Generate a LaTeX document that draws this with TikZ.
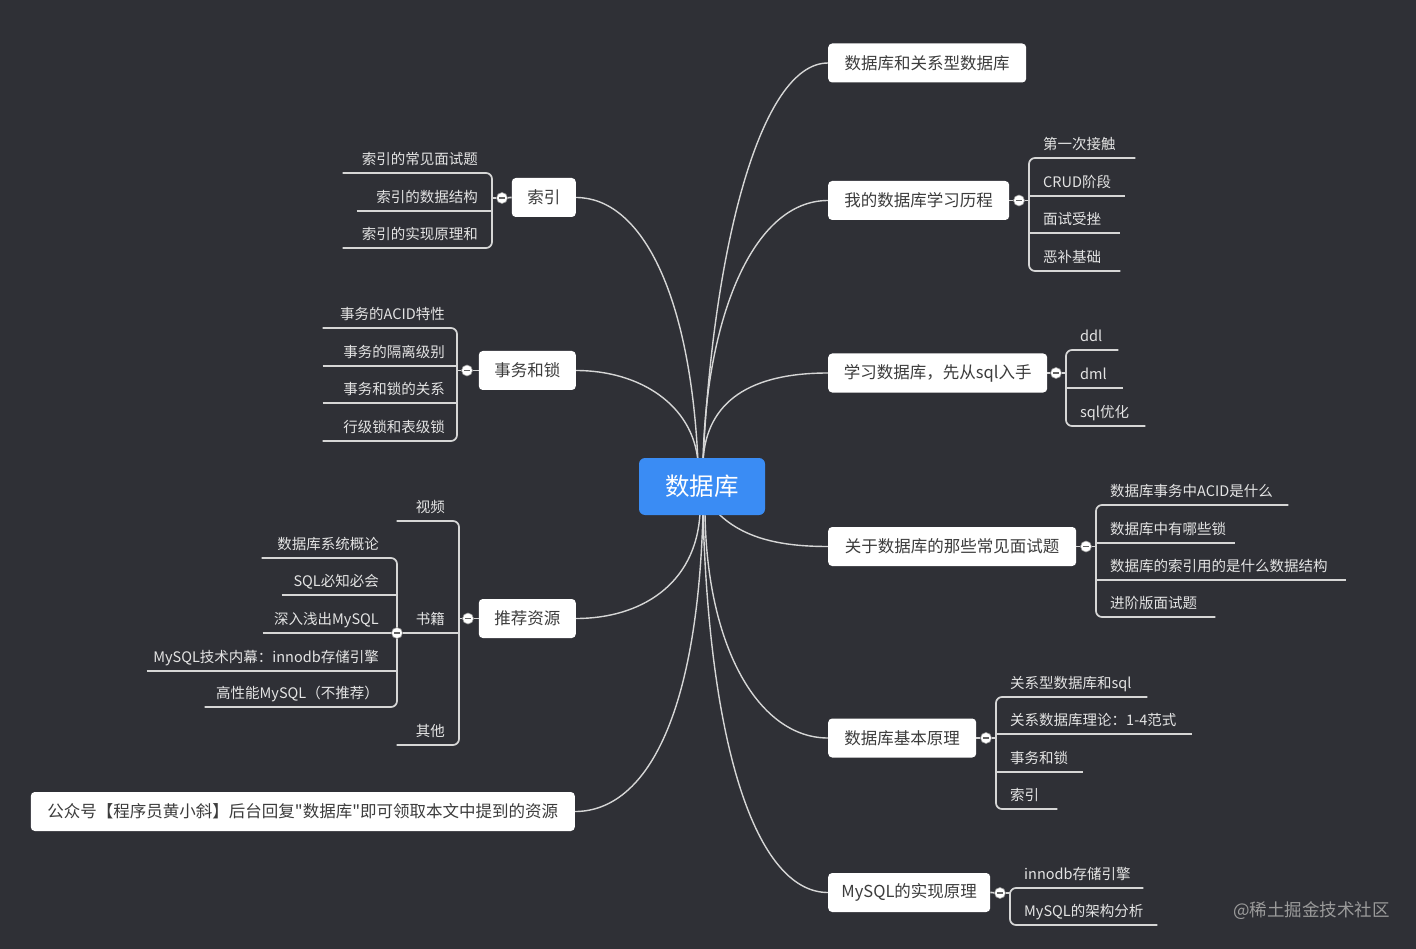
\documentclass[tikz,border=0pt]{standalone}
\usepackage{fontspec}
\setmainfont{Noto Sans CJK SC}
\newfontfamily\qfont{Noto Sans CJK SC}
\usetikzlibrary{calc}
\definecolor{bgc}{HTML}{2F3036}
\definecolor{linec}{HTML}{D6D6D6}
\definecolor{leafc}{HTML}{E4E4E4}
\definecolor{mainc}{HTML}{3C3C3C}
\definecolor{bluec}{HTML}{3A8CF4}
\definecolor{wmc}{HTML}{9B9B9B}
\newcommand\rtxt[2]{\makebox[#1pt][l]{\hspace{14pt}\vphantom{数g}#2}}
\newcommand\ltxt[3]{\makebox[#1pt][r]{\vphantom{数g}#3\hspace{#2pt}}}
\pgfdeclarelayer{back}
\pgfdeclarelayer{lines}
\pgfsetlayers{back,lines,main}
\tikzset{
  mainbox/.style={fill=white, rounded corners=4pt, text=mainc, font=\fontsize{16.5}{19}\selectfont, minimum height=39pt, inner sep=0pt},
  leaf/.style={inner xsep=0pt, inner ysep=5pt, text=leafc, font=\fontsize{14.5}{17}\selectfont},
  conn/.style={draw=linec, line width=1.4pt},
  ul/.style={draw=linec, line width=1.7pt},
  coll/.style={circle, fill=white, draw=linec!70!black, line width=0.6pt, inner sep=0pt, minimum size=11pt,
    path picture={\draw[mainc!80, line width=1.4pt] ($(path picture bounding box.west)+(2.8,0)$) -- ($(path picture bounding box.east)+(-2.8,0)$);}}
}
\begin{document}
\begin{tikzpicture}[x=1pt,y=-1pt]
\begin{pgfonlayer}{back}
\fill[bgc] (0,0) rectangle (1416,949);
\end{pgfonlayer}
\useasboundingbox (0,0) rectangle (1416,949);

% center
\node[fill=bluec, rounded corners=6pt, text=white, font=\fontsize{24.5}{28}\selectfont, minimum width=126pt, minimum height=57pt, inner sep=0pt] (c) at (702,486.5) {数据库};

% right main nodes
\node[mainbox, anchor=west, minimum width=198pt] (m1) at (828,63) {数据库和关系型数据库};
\node[mainbox, anchor=west, minimum width=181pt] (m2) at (828,200.5) {我的数据库学习历程};
\node[mainbox, anchor=west, minimum width=219pt] (m3) at (828,373) {学习数据库，先从sql入手};
\node[mainbox, anchor=west, minimum width=248pt] (m4) at (828,546.5) {关于数据库的那些常见面试题};
\node[mainbox, anchor=west, minimum width=148pt] (m5) at (828,738) {数据库基本原理};
\node[mainbox, anchor=west, minimum width=162pt] (m6) at (828,892.5) {MySQL的实现原理};
% left main nodes
\node[mainbox, anchor=east, minimum width=64pt] (m7) at (576,197.5) {索引};
\node[mainbox, anchor=east, minimum width=97pt] (m8) at (576,370.5) {事务和锁};
\node[mainbox, anchor=east, minimum width=97pt] (m9) at (576,618.5) {推荐资源};
\node[mainbox, anchor=east, minimum width=544pt] (m10) at (575,811.5) {\qfont 公众号【程序员黄小斜】后台回复"数据库"即可领取本文中提到的资源};

% collapse circles
\node[coll] (k2) at (1019,200.5) {};
\node[coll] (k3) at (1056,373) {};
\node[coll] (k4) at (1086,546.5) {};
\node[coll] (k5) at (986,738) {};
\node[coll] (k6) at (1000,893) {};
\node[coll] (k7) at (502,198) {};
\node[coll] (k8) at (467,370.5) {};
\node[coll] (k9) at (468,618.5) {};
\node[coll] (k10) at (397,633) {};

% right leaves
\node[leaf, anchor=south west] (a1) at (1029,158) {\rtxt{106}{第一次接触}};
\node[leaf, anchor=south west] (a2) at (1029,196) {\rtxt{96}{CRUD阶段}};
\node[leaf, anchor=south west] (a3) at (1029,233) {\rtxt{91}{面试受挫}};
\node[leaf, anchor=south west] (a4) at (1029,271) {\rtxt{91}{恶补基础}};

\node[leaf, anchor=south west] (q1) at (1066,350) {\rtxt{52}{ddl}};
\node[leaf, anchor=south west] (q2) at (1066,388) {\rtxt{57}{dml}};
\node[leaf, anchor=south west] (q3) at (1066,426) {\rtxt{79}{sql优化}};

\node[leaf, anchor=south west] (f1) at (1096,505) {\rtxt{192}{数据库事务中ACID是什么}};
\node[leaf, anchor=south west] (f2) at (1096,543) {\rtxt{139}{数据库中有哪些锁}};
\node[leaf, anchor=south west] (f3) at (1096,580) {\rtxt{250}{数据库的索引用的是什么数据结构}};
\node[leaf, anchor=south west] (f4) at (1096,617) {\rtxt{119}{进阶版面试题}};

\node[leaf, anchor=south west] (p1) at (996,697) {\rtxt{151}{关系型数据库和sql}};
\node[leaf, anchor=south west] (p2) at (996,734) {\rtxt{196}{关系数据库理论：1-4范式}};
\node[leaf, anchor=south west] (p3) at (996,772) {\rtxt{87}{事务和锁}};
\node[leaf, anchor=south west] (p4) at (996,809) {\rtxt{61}{索引}};

\node[leaf, anchor=south west] (y1) at (1010,888) {\rtxt{133}{innodb存储引擎}};
\node[leaf, anchor=south west] (y2) at (1010,925) {\rtxt{147}{MySQL的架构分析}};

% left leaves
\node[leaf, anchor=south east] (s1) at (492,173) {\ltxt{149}{14}{索引的常见面试题}};
\node[leaf, anchor=south east] (s2) at (492,211) {\ltxt{135}{14}{索引的数据结构}};
\node[leaf, anchor=south east] (s3) at (492,248) {\ltxt{149}{14}{索引的实现原理和}};

\node[leaf, anchor=south east] (t1) at (457,328) {\ltxt{134}{12}{事务的ACID特性}};
\node[leaf, anchor=south east] (t2) at (457,366) {\ltxt{134}{12}{事务的隔离级别}};
\node[leaf, anchor=south east] (t3) at (457,403) {\ltxt{134}{12}{事务和锁的关系}};
\node[leaf, anchor=south east] (t4) at (457,441) {\ltxt{134}{12}{行级锁和表级锁}};

\node[leaf, anchor=south east] (v1) at (459,521) {\ltxt{62}{14}{视频}};
\node[leaf, anchor=south east] (v2) at (459,633) {\ltxt{62}{14}{书籍}};
\node[leaf, anchor=south east] (v3) at (459,745) {\ltxt{62}{14}{其他}};

\node[leaf, anchor=south east] (d1) at (397,558) {\ltxt{135}{18}{数据库系统概论}};
\node[leaf, anchor=south east] (d2) at (397,595) {\ltxt{115}{18}{SQL必知必会}};
\node[leaf, anchor=south east] (d3) at (397,633) {\ltxt{134}{18}{深入浅出MySQL}};
\node[leaf, anchor=south east] (d4) at (397,671) {\ltxt{250}{18}{MySQL技术内幕：innodb存储引擎}};
\node[leaf, anchor=south east] (d5) at (397,707) {\ltxt{192}{18}{高性能MySQL（不推荐）}};

% watermark
\node[anchor=east, text=wmc, font=\fontsize{17.5}{20}\selectfont, inner sep=0pt] (wm) at (1390,911) {@稀土掘金技术社区};

\begin{pgfonlayer}{lines}
% center connectors (right)
\draw[conn] ($(c.north)+(1,4)$) .. controls (713,250) and (760,63) .. (m1.west);
\draw[conn] ($(c.north)+(1,4)$) .. controls (706,320) and (752,200.5) .. (m2.west);
\draw[conn] ($(c.north)+(1,4)$) .. controls (706,400) and (752,373) .. (m3.west);
\draw[conn] ($(c.south)+(16,-2)$) .. controls (745,540) and (785,546.5) .. (m4.west);
\draw[conn] ($(c.south)+(3,-2)$) .. controls (707,650) and (760,738) .. (m5.west);
\draw[conn] ($(c.south)+(1,-2)$) .. controls (710,760) and (760,892.5) .. (m6.west);
% center connectors (left)
\draw[conn] ($(c.north)+(-4,4)$) .. controls (690,290) and (640,197.5) .. (m7.east);
\draw[conn] ($(c.north)+(-4,4)$) .. controls (693,405) and (640,370.5) .. (m8.east);
\draw[conn] ($(c.south)+(-2,-2)$) .. controls (696,585) and (640,618.5) .. (m9.east);
\draw[conn] ($(c.south)+(1,-2)$) .. controls (697,730) and (640,811.5) .. (m10.east);

% main -> collapse circles
\draw[ul] (m2.east) -- (k2);
\draw[ul] (m3.east) -- (k3);
\draw[ul] (m4.east) -- (k4);
\draw[ul] (m5.east) -- (k5);
\draw[ul] (m6.east) -- (k6);
\draw[ul] (m7.west) -- (k7);
\draw[ul] (m8.west) -- (k8);
\draw[ul] (m9.west) -- (k9);

% right brackets
\draw[ul] (k2) -- (k2 -| a1.south west);
\draw[ul, rounded corners=6pt] (a1.south east) -- (a1.south west) -- (a4.south west) -- (a4.south east);
\draw[ul] (a2.south west) -- (a2.south east);
\draw[ul] (a3.south west) -- (a3.south east);

\draw[ul] (k3) -- (k3 -| q1.south west);
\draw[ul, rounded corners=6pt] (q1.south east) -- (q1.south west) -- (q3.south west) -- (q3.south east);
\draw[ul] (q2.south west) -- (q2.south east);

\draw[ul] (k4) -- (k4 -| f1.south west);
\draw[ul, rounded corners=6pt] (f1.south east) -- (f1.south west) -- (f4.south west) -- (f4.south east);
\draw[ul] (f2.south west) -- (f2.south east);
\draw[ul] (f3.south west) -- (f3.south east);

\draw[ul] (k5) -- (k5 -| p1.south west);
\draw[ul, rounded corners=6pt] (p1.south east) -- (p1.south west) -- (p4.south west) -- (p4.south east);
\draw[ul] (p2.south west) -- (p2.south east);
\draw[ul] (p3.south west) -- (p3.south east);

\draw[ul] (k6) -- (k6 -| y1.south west);
\draw[ul, rounded corners=6pt] (y1.south east) -- (y1.south west) -- (y2.south west) -- (y2.south east);

% left brackets
\draw[ul] (k7) -- (k7 -| s1.south east);
\draw[ul, rounded corners=6pt] (s1.south west) -- (s1.south east) -- (s3.south east) -- (s3.south west);
\draw[ul] (s2.south west) -- (s2.south east);

\draw[ul] (k8) -- (k8 -| t1.south east);
\draw[ul, rounded corners=6pt] (t1.south west) -- (t1.south east) -- (t4.south east) -- (t4.south west);
\draw[ul] (t2.south west) -- (t2.south east);
\draw[ul] (t3.south west) -- (t3.south east);

\draw[ul] (k9) -- (k9 -| v1.south east);
\draw[ul, rounded corners=6pt] (v1.south west) -- (v1.south east) -- (v3.south east) -- (v3.south west);
\draw[ul] (v2.south east) -- (k10);

\draw[ul, rounded corners=6pt] (d1.south west) -- (d1.south east) -- (d5.south east) -- (d5.south west);
\draw[ul] (d2.south west) -- (d2.south east);
\draw[ul] (d3.south west) -- (d3.south east);
\draw[ul] (d4.south west) -- (d4.south east);
\end{pgfonlayer}
\end{tikzpicture}
\end{document}
